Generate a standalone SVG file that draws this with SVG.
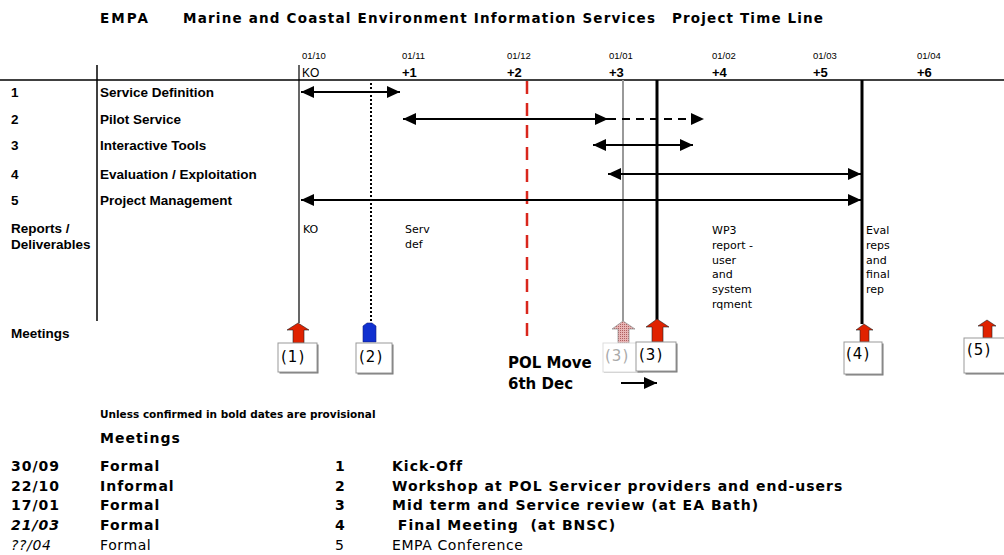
<svg xmlns="http://www.w3.org/2000/svg" width="1004" height="555" viewBox="0 0 1004 555">
<style>
.title{font-family:"DejaVu Sans",Verdana,sans-serif;font-weight:bold;font-size:13.5px;fill:#000}
.hd{font-family:"Liberation Sans",Arial,sans-serif;font-size:9.5px;fill:#000}
.hb{font-family:"Liberation Sans",Arial,sans-serif;font-size:13px;font-weight:bold;fill:#000}
.lab{font-family:"Liberation Sans",Arial,sans-serif;font-size:13.5px;font-weight:bold;fill:#000}
.rep{font-family:"DejaVu Sans",Verdana,sans-serif;font-size:11px;fill:#000}
.mt{font-family:"DejaVu Sans",Verdana,sans-serif;font-size:15px;letter-spacing:1px;fill:#000}
.pol{font-family:"DejaVu Sans",Verdana,sans-serif;font-size:15px;font-weight:bold;fill:#000}
.note{font-family:"DejaVu Sans",Verdana,sans-serif;font-size:10.5px;font-weight:bold;fill:#000}
.tb{font-family:"DejaVu Sans",Verdana,sans-serif;font-size:14px;font-weight:bold;letter-spacing:1px;fill:#000;white-space:pre}
.tr{font-family:"DejaVu Sans",Verdana,sans-serif;font-size:14px;letter-spacing:0.6px;fill:#000}
.it{font-style:italic}
.arr{stroke:#000;stroke-width:2;fill:none}
.box{fill:#fff;stroke:#999;stroke-width:1}
.shd{fill:#777}
.red{fill:#e02200;stroke:#222;stroke-width:0.6}
</style>
<defs>
<marker id="ah" viewBox="0 0 13 12" refX="13" refY="6" markerWidth="13" markerHeight="12" markerUnits="userSpaceOnUse" orient="auto-start-reverse">
<path d="M0,0 L13,6 L0,12 z" fill="#000"/>
</marker>
<pattern id="hatch" width="2" height="2" patternUnits="userSpaceOnUse">
<rect width="2" height="2" fill="#e8b4b4"/>
<rect width="1" height="1" fill="#b06060"/>
</pattern>
</defs>

<g id="title">
<text class="title" x="100" y="23" textLength="48" lengthAdjust="spacing">EMPA</text>
<text class="title" x="183" y="23" textLength="472" lengthAdjust="spacing">Marine and Coastal Environment Information Services</text>
<text class="title" x="672" y="23" textLength="151" lengthAdjust="spacing">Project Time Line</text>
</g>

<g id="timescale">
<text class="hd" x="302" y="59">01/10</text>
<text class="hd" x="402" y="59">01/11</text>
<text class="hd" x="507" y="59">01/12</text>
<text class="hd" x="609" y="59">01/01</text>
<text class="hd" x="712" y="59">01/02</text>
<text class="hd" x="813" y="59">01/03</text>
<text class="hd" x="917" y="59">01/04</text>
<text class="hd" x="302" y="77" style="font-size:12px">KO</text>
<text class="hb" x="402" y="77">+1</text>
<text class="hb" x="507" y="77">+2</text>
<text class="hb" x="609" y="77">+3</text>
<text class="hb" x="712" y="77">+4</text>
<text class="hb" x="813" y="77">+5</text>
<text class="hb" x="917" y="77">+6</text>
</g>

<g id="grid">
<line x1="0" y1="80" x2="1004" y2="80" stroke="#000" stroke-width="1.5"/>
<line x1="97" y1="65" x2="97" y2="321" stroke="#000" stroke-width="1.5"/>
<line x1="299" y1="65" x2="299" y2="323" stroke="#000" stroke-width="1.2"/>
<line x1="371" y1="83" x2="371" y2="322" stroke="#000" stroke-width="2" stroke-dasharray="2,2"/>
<line x1="527" y1="81" x2="527" y2="337" stroke="#d9261c" stroke-width="2.5" stroke-dasharray="13,9"/>
<line x1="623" y1="80" x2="623" y2="321" stroke="#999" stroke-width="2"/>
<line x1="657" y1="80" x2="657" y2="320" stroke="#000" stroke-width="3"/>
<line x1="862" y1="80" x2="862" y2="324" stroke="#000" stroke-width="3"/>
</g>

<g id="row-labels">
<text class="lab" x="11" y="97">1</text>
<text class="lab" x="11" y="124">2</text>
<text class="lab" x="11" y="150">3</text>
<text class="lab" x="11" y="179">4</text>
<text class="lab" x="11" y="205">5</text>
<text class="lab" x="11" y="233">Reports /</text>
<text class="lab" x="11" y="249">Deliverables</text>
<text class="lab" x="11" y="338">Meetings</text>
</g>

<g id="task-1"><text class="lab" x="100" y="97">Service Definition</text></g>
<g id="task-2"><text class="lab" x="100" y="124">Pilot Service</text></g>
<g id="task-3"><text class="lab" x="100" y="150">Interactive Tools</text></g>
<g id="task-4"><text class="lab" x="100" y="179">Evaluation / Exploitation</text></g>
<g id="task-5"><text class="lab" x="100" y="205">Project Management</text></g>

<g id="connectors">
<line class="arr" x1="301" y1="92" x2="400" y2="92" marker-start="url(#ah)" marker-end="url(#ah)"/>
<line class="arr" x1="403" y1="119" x2="608" y2="119" marker-start="url(#ah)" marker-end="url(#ah)"/>
<line class="arr" x1="608" y1="119" x2="704" y2="119" stroke-dasharray="8,6" marker-end="url(#ah)"/>
<line class="arr" x1="593" y1="145" x2="693" y2="145" marker-start="url(#ah)" marker-end="url(#ah)"/>
<line class="arr" x1="608" y1="174" x2="861" y2="174" marker-start="url(#ah)" marker-end="url(#ah)"/>
<line class="arr" x1="301" y1="200" x2="861" y2="200" marker-start="url(#ah)" marker-end="url(#ah)"/>
<line class="arr" x1="621" y1="383" x2="657" y2="383" marker-end="url(#ah)"/>
</g>

<g id="deliverables">
<text class="rep" x="303" y="233">KO</text>
<text class="rep" x="405" y="233">Serv</text>
<text class="rep" x="405" y="248">def</text>
<text class="rep" x="712" y="234">WP3</text>
<text class="rep" x="712" y="249">report -</text>
<text class="rep" x="712" y="264">user</text>
<text class="rep" x="712" y="278">and</text>
<text class="rep" x="712" y="293">system</text>
<text class="rep" x="712" y="308">rqment</text>
<text class="rep" x="866" y="234">Eval</text>
<text class="rep" x="866" y="249">reps</text>
<text class="rep" x="866" y="264">and</text>
<text class="rep" x="866" y="278">final</text>
<text class="rep" x="866" y="293">rep</text>
</g>

<g id="meeting-1">
<path class="red" d="M298,323 L309,330 L304,330 L304,343 L293,343 L293,330 L287,330 Z"/>
<rect class="shd" x="279.5" y="344.5" width="39" height="29"/>
<rect class="box" x="278" y="343" width="39" height="29"/>
<text class="mt" x="281" y="362">(1)</text>
</g>

<g id="meeting-2">
<path d="M363,342 L363,326 L367,323 L372,323 L376,326 L376,342 Z" fill="#1030d0" stroke="#102080" stroke-width="0.6"/>
<rect class="shd" x="357.5" y="344.5" width="36" height="30"/>
<rect class="box" x="356" y="343" width="36" height="30"/>
<text class="mt" x="359" y="362">(2)</text>
</g>

<g id="meeting-3-old">
<path d="M623,321 L635,329 L629,329 L629,343 L618,343 L618,329 L612,329 Z" fill="url(#hatch)" stroke="#999" stroke-width="0.8"/>
<rect x="604" y="344" width="39" height="29" fill="#ccc"/>
<rect x="603" y="343" width="39" height="29" fill="#fff" stroke="#ddd" stroke-width="1"/>
<text class="mt" x="605" y="361" style="fill:#aaa">(3)</text>
</g>

<g id="meeting-3">
<path class="red" d="M657,319 L669,327 L663,327 L663,342 L652,342 L652,327 L646,327 Z"/>
<rect class="shd" x="637.5" y="343.5" width="40" height="29"/>
<rect class="box" x="636" y="342" width="40" height="29"/>
<text class="mt" x="639" y="360">(3)</text>
</g>

<g id="pol-move">
<text class="pol" x="508" y="368">POL Move</text>
<text class="pol" x="508" y="389">6th Dec</text>
</g>

<g id="meeting-4">
<path class="red" d="M864,324 L873,330 L869,330 L869,342 L860,342 L860,330 L856,330 Z"/>
<rect class="shd" x="845.5" y="343.5" width="38" height="32"/>
<rect class="box" x="844" y="342" width="38" height="32"/>
<text class="mt" x="846" y="359">(4)</text>
</g>

<g id="meeting-5">
<path class="red" d="M987,320 L996,326 L992,326 L992,338 L983,338 L983,326 L978,326 Z"/>
<rect class="shd" x="965.5" y="339.5" width="41" height="35"/>
<rect class="box" x="964" y="338" width="41" height="35"/>
<text class="mt" x="967" y="355">(5)</text>
</g>

<g id="note">
<text class="note" x="100" y="418">Unless confirmed in bold dates are provisional</text>
</g>

<g id="meetings-table">
<text class="tb" x="100" y="443">Meetings</text>
<text class="tb" x="11" y="471">30/09</text>
<text class="tb" x="100" y="471">Formal</text>
<text class="tb" x="335" y="471">1</text>
<text class="tb" x="392" y="471">Kick-Off</text>
<text class="tb" x="11" y="491">22/10</text>
<text class="tb" x="100" y="491">Informal</text>
<text class="tb" x="335" y="491">2</text>
<text class="tb" x="392" y="491">Workshop at POL Servicer providers and end-users</text>
<text class="tb" x="11" y="510">17/01</text>
<text class="tb" x="100" y="510">Formal</text>
<text class="tb" x="335" y="510">3</text>
<text class="tb" x="392" y="510">Mid term and Service review (at EA Bath)</text>
<text class="tb it" x="11" y="530">21/03</text>
<text class="tb" x="100" y="530">Formal</text>
<text class="tb" x="335" y="530">4</text>
<text class="tb" x="392" y="530" xml:space="preserve"> Final Meeting  (at BNSC)</text>
<text class="tr it" x="11" y="550">??/04</text>
<text class="tr" x="100" y="550">Formal</text>
<text class="tr" x="335" y="550">5</text>
<text class="tr" x="392" y="550">EMPA Conference</text>
</g>
</svg>
